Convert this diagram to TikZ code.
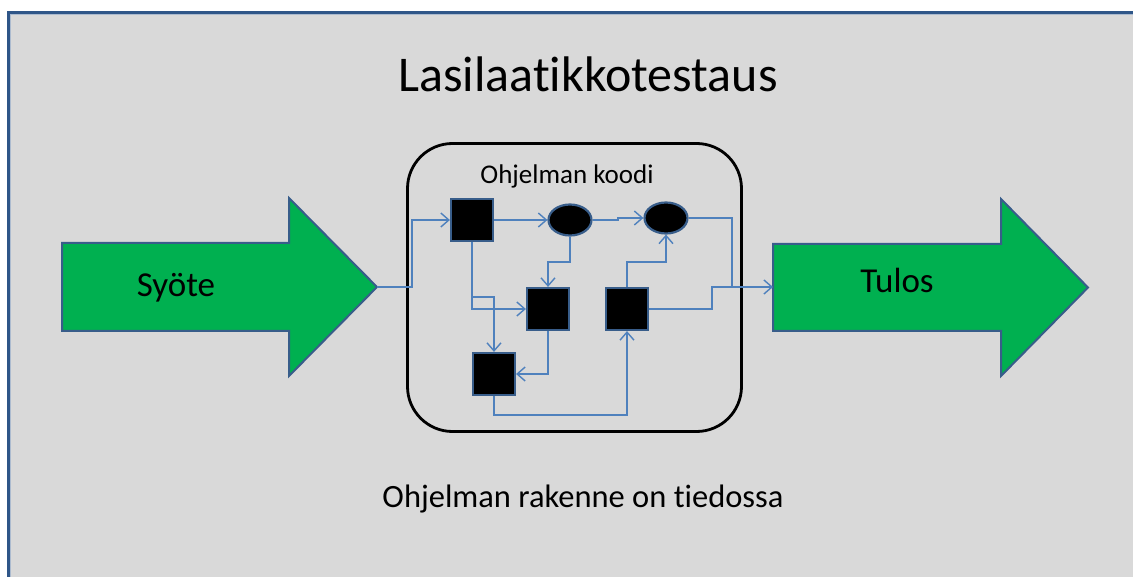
\documentclass[tikz,border=0pt]{standalone}
\usepackage{fontspec}
\setmainfont{Carlito}[Ligatures={NoCommon,NoContextual,NoRequired}]
\usetikzlibrary{arrows.meta,shapes.geometric}
\definecolor{panel}{HTML}{D9D9D9}
\definecolor{framecol}{HTML}{2F5688}
\definecolor{flowgreen}{HTML}{00B050}
\definecolor{edgeblue}{HTML}{385D8A}
\definecolor{wireblue}{HTML}{4F81BD}

\begin{document}
\begin{tikzpicture}[x=1pt,y=-1pt,
  box/.style={draw=edgeblue,line width=2.2pt,fill=black,minimum size=42pt,inner sep=0pt},
  oval/.style={ellipse,draw=edgeblue,line width=2.2pt,fill=black,minimum width=43pt,minimum height=31pt,inner sep=0pt},
  wire/.style={draw=wireblue,line width=1.4pt},
  flow/.style={wire,-{Straight Barb[length=8pt,width=14pt]}},
  bigarrow/.style={fill=flowgreen,draw=edgeblue,line width=2pt,line join=miter},
  lbl/.style={anchor=base,inner sep=0pt,text=black},
]
\useasboundingbox (0,0) rectangle (1133,577);
% page and panel frame
\fill[white] (0,0) rectangle (1133,577);
\fill[panel] (8.5,12.5) rectangle (1133,577);
\draw[framecol,line width=3pt] (8.5,577) -- (8.5,12.5) -- (1133,12.5);
\draw[framecol!40,line width=0.8pt] (10.8,577) -- (10.8,14.8) -- (1133,14.8);

% titles
\node[lbl,font=\fontsize{50}{60}\selectfont] (title) at (588,92) {Lasilaatikkotestaus};
\node[lbl,font=\fontsize{32.5}{39}\selectfont] (note) at (583,507) {Ohjelman rakenne on tiedossa};

% input and output arrows
\draw[bigarrow] (62,243) -- (289,243) -- (289,198) -- (377,287) -- (289,376) -- (289,331) -- (62,331) -- cycle;
\draw[bigarrow] (773,244) -- (1001,244) -- (1001,199) -- (1088,287.5) -- (1001,376) -- (1001,331) -- (773,331) -- cycle;
\coordinate (sytip) at (377,287);
\coordinate (tuin) at (773,287);
\node[lbl,font=\fontsize{35}{42}\selectfont] (syote) at (176,297) {Syöte};
\node[lbl,font=\fontsize{35}{42}\selectfont] (tulos) at (897,293) {Tulos};

% program code container
\node[draw=black,line width=2.8pt,rounded corners=45pt,minimum width=334pt,minimum height=288pt] (code) at (574.5,287.5) {};
\node[lbl,font=\fontsize{27}{32}\selectfont] (codelbl) at (567,184) {Ohjelman koodi};

% program elements
\node[box] (a) at (472,220) {};
\node[oval] (b) at (570,220) {};
\node[oval] (c) at (666,218) {};
\node[box] (d) at (548,309) {};
\node[box] (e) at (627,309) {};
\node[box] (f) at (494,374) {};

% control flow
\draw[flow] (sytip) -- (412,287) |- (a.west);
\draw[flow] (a.east) -- (b.west);
\draw[flow] (b.east) -- (618,220) |- (c.west);
\draw[flow] (c.east) -| (732,287) -- (tuin);
\draw[wire] (e.east) -| (712,287) -- (732,287);
\draw[flow] (b.south) |- (548,262) -- (d.north);
\draw[flow] (a.south) |- (d.west);
\draw[flow] (472,297) -| (f.north);
\draw[flow] (d.south) |- (f.east);
\draw[flow] (f.south) -- (494,415) -| (e.south);
\draw[flow] (e.north) -- (627,262) -| (c.south);
\end{tikzpicture}
\end{document}
